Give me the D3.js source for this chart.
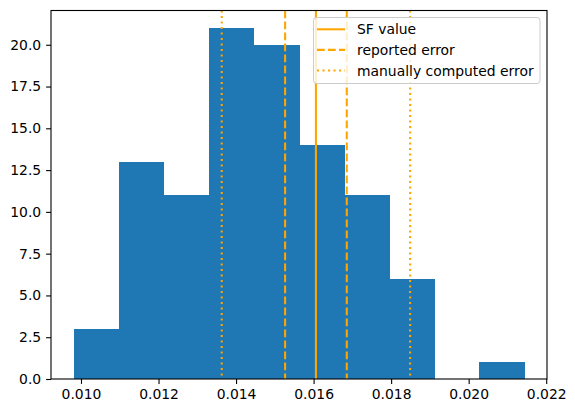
<!DOCTYPE html>
<html><head><meta charset="utf-8">
<script src="https://cdn.jsdelivr.net/npm/d3@7"></script>
<style>body{margin:0;background:#fff}svg{display:block}text{font-family:"DejaVu Sans",sans-serif;fill:#000}</style>
</head><body><svg id="c" width="575" height="413"></svg>
<script>
const binEdges = [0.009808,0.010971,0.012134,0.013297,0.014460,0.015624,0.016787,0.017950,0.019113,0.020276,0.021439];
const counts = [3,13,11,21,20,14,11,6,0,1];
const sfValue = 0.01606;
const reportedError = [0.015265,0.016856];
const manualError = [0.013631,0.01849];
const xTicks = [0.010,0.012,0.014,0.016,0.018,0.020,0.022];
const yTicks = [0,2.5,5,7.5,10,12.5,15,17.5,20];
const legendLabels = ["SF value","reported error","manually computed error"];

const svg = d3.select("#c");
const L=51,R=547,T=10.5,B=379;
const xr = binEdges[binEdges.length-1]-binEdges[0];
const x = d3.scaleLinear().domain([binEdges[0]-0.05*xr, binEdges[binEdges.length-1]+0.05*xr]).range([L,R]);
const y = d3.scaleLinear().domain([0, d3.max(counts)*1.05]).range([B,T]);

const bins = counts.map((c,i)=>({x0:binEdges[i],x1:binEdges[i+1],c}));
svg.append("g").selectAll("rect").data(bins).join("rect")
  .attr("x",d=>x(d.x0)).attr("width",d=>x(d.x1)-x(d.x0)+0.5)
  .attr("y",d=>y(d.c)).attr("height",d=>y(0)-y(d.c)).attr("fill","#1f77b4")
  .attr("shape-rendering","crispEdges");

const orange="#FFA500";
const vlines=[{v:sfValue,dash:null},{v:reportedError[0],dash:"7.7,3.3"},{v:reportedError[1],dash:"7.7,3.3"},{v:manualError[0],dash:"2.1,3.4"},{v:manualError[1],dash:"2.1,3.4"}];
svg.append("g").selectAll("line").data(vlines).join("line")
  .attr("x1",d=>x(d.v)).attr("x2",d=>x(d.v)).attr("y1",T).attr("y2",B)
  .attr("stroke",orange).attr("stroke-width",2.08).attr("stroke-dasharray",d=>d.dash);

// axes
const xa = svg.append("g").attr("transform",`translate(0,${B})`)
  .call(d3.axisBottom(x).tickValues(xTicks).tickFormat(d3.format(".3f")).tickSizeOuter(0).tickSize(4.9).tickPadding(4.9));
const ya = svg.append("g").attr("transform",`translate(${L},0)`)
  .call(d3.axisLeft(y).tickValues(yTicks).tickFormat(d3.format(".1f")).tickSizeOuter(0).tickSize(4.9).tickPadding(4.9));
[xa,ya].forEach(g=>{g.select(".domain").remove();g.selectAll("line").attr("stroke","#000").attr("stroke-width",1.1);
  g.selectAll("text").attr("font-size","13.9px").attr("font-family","DejaVu Sans").attr("fill","#000");});
// spines
svg.append("rect").attr("x",L).attr("y",T).attr("width",R-L).attr("height",B-T)
  .attr("fill","none").attr("stroke","#000").attr("stroke-width",1.1);

// legend
const lg = svg.append("g");
lg.append("rect").attr("x",313.5).attr("y",17.5).attr("width",226.5).attr("height",66)
  .attr("rx",3).attr("fill","#fff").attr("fill-opacity",0.8).attr("stroke","#cccccc").attr("stroke-width",1);
const dashes=[null,"7.7,3.3","2.1,3.4"];
legendLabels.forEach((t,i)=>{
  const yy=29.3+i*20.6;
  lg.append("line").attr("x1",317).attr("x2",345).attr("y1",yy).attr("y2",yy)
    .attr("stroke",orange).attr("stroke-width",2.08).attr("stroke-dasharray",dashes[i]);
  lg.append("text").attr("x",357).attr("y",yy).attr("dy","0.36em").attr("font-size","13.9px").text(t);
});
</script></body></html>
